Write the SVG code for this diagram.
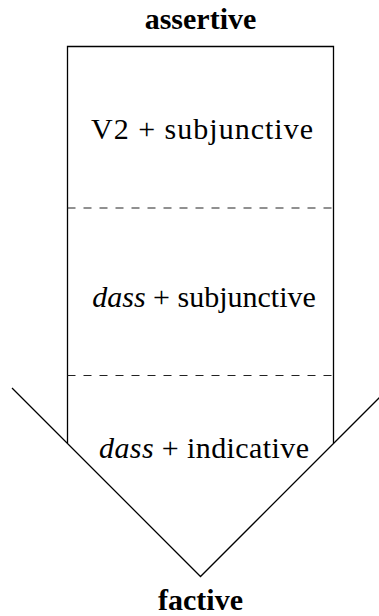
<svg xmlns="http://www.w3.org/2000/svg" width="379" height="616" viewBox="0 0 379 616">
<style>
.t{font-family:"Liberation Serif","DejaVu Serif",serif;font-size:30px;fill:#000;text-anchor:middle}
.b{font-family:"Liberation Serif","DejaVu Serif",serif;font-size:30px;font-weight:bold;fill:#000;text-anchor:middle}
.ln{fill:none;stroke:#000;stroke-width:1.3}
.dash{fill:none;stroke:#222;stroke-width:1;stroke-dasharray:8 8}
</style>
<rect width="379" height="616" fill="#fff"/>
<g id="arrow">
<path class="ln" d="M67.5,443 V46.5 H333.5 V443"/>
<path class="ln" d="M12,388 L200.5,576.5 L389,388"/>
</g>
<g id="connectors">
<line class="dash" x1="67.5" y1="208" x2="333.5" y2="208"/>
<line class="dash" x1="67.5" y1="375.5" x2="333.5" y2="375.5"/>
</g>
<g id="label-assertive"><text class="b" x="200.5" y="29">assertive</text></g>
<g id="node-v2"><text class="t" x="202" y="139" textLength="222">V2 + subjunctive</text></g>
<g id="node-dass-subj"><text class="t" x="204" y="307"><tspan font-style="italic">dass</tspan> + subjunctive</text></g>
<g id="node-dass-ind"><text class="t" x="204" y="458" textLength="210"><tspan font-style="italic">dass</tspan> + indicative</text></g>
<g id="label-factive"><text class="b" x="200.5" y="610">factive</text></g>
</svg>
